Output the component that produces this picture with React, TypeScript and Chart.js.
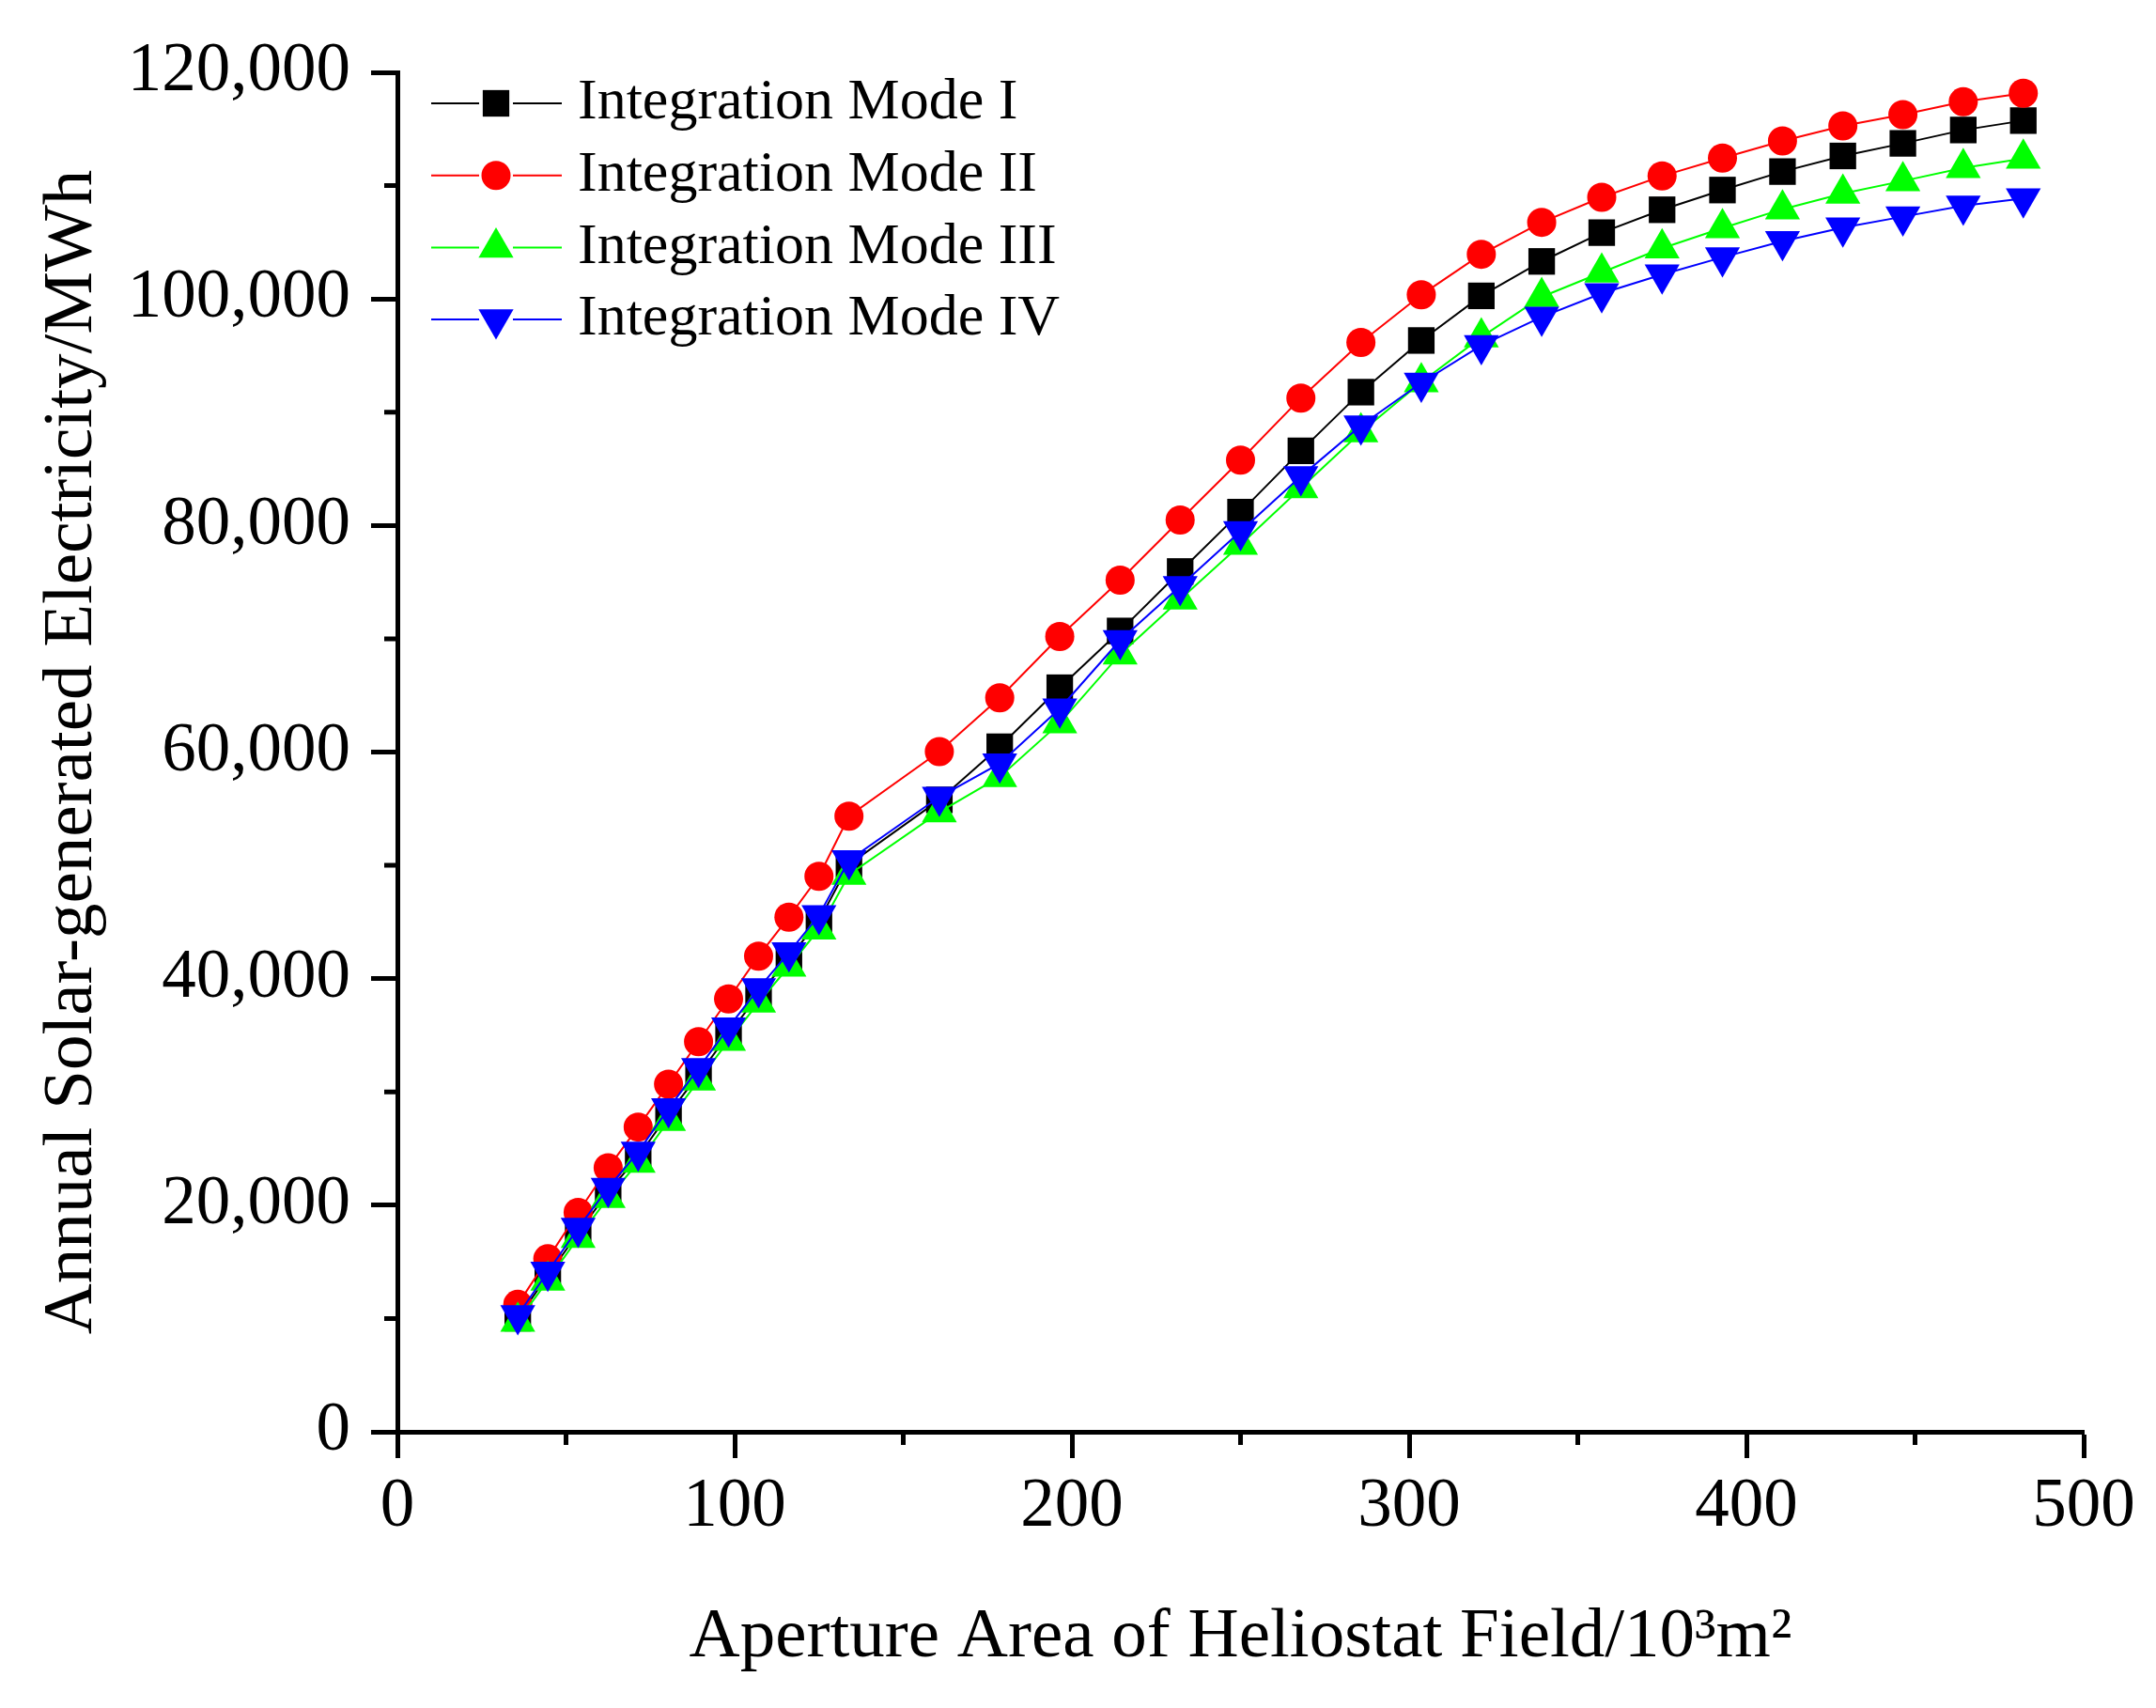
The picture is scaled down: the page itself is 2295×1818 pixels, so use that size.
import { useEffect, useRef } from 'react';
import { Chart, registerables } from 'chart.js';
import { drawPoint } from 'chart.js/helpers';

Chart.register(...registerables);

// Aperture area of heliostat field (10^3 m2)
const apertureArea = [
  35.7, 44.6, 53.6, 62.5, 71.4, 80.4, 89.3, 98.2, 107.1, 116.1, 125.0, 133.9,
  160.7, 178.6, 196.4, 214.3, 232.1, 250.0, 267.9, 285.7, 303.6, 321.4, 339.3,
  357.1, 375.0, 392.9, 410.7, 428.6, 446.4, 464.3, 482.1,
];

// Annual solar-generated electricity (MWh)
const modeI = [
  10030, 13790, 17560, 21170, 24280, 28060, 31500, 35100, 38550, 41820, 45100, 50080,
  55780, 60470, 65680, 70690, 75940, 81180, 86590, 91770, 96330, 100270, 103310,
  105850, 107870, 109610, 111240, 112620, 113730, 114910, 115740,
];
const modeII = [
  11250, 15270, 19360, 23300, 26900, 30680, 34440, 38210, 41990, 45430, 49030, 54340,
  60040, 64790, 70200, 75180, 80490, 85770, 91250, 96160, 100360, 103940, 106760,
  108970, 110850, 112430, 113950, 115270, 116270, 117400, 118150,
];
const modeIII = [
  9730, 13360, 17130, 20650, 23760, 27460, 31010, 34510, 37890, 41070, 44350, 49180,
  54700, 57810, 62560, 68630, 73480, 78300, 83310, 88230, 92660, 96620, 100180,
  102340, 104470, 106260, 107920, 109300, 110410, 111570, 112400,
];
const modeIV = [
  10280, 14120, 17990, 21530, 24710, 28540, 32090, 35690, 39140, 42310, 45590, 50440,
  56040, 58990, 63840, 69870, 74630, 79480, 84330, 88820, 92590, 95900, 98410,
  100490, 102150, 103670, 105100, 106290, 107260, 108230, 108860,
];

const seriesLabels = ['Integration Mode I', 'Integration Mode II', 'Integration Mode III', 'Integration Mode IV'];
const xMinorTicks = [50, 150, 250, 350, 450];
const yMinorTicks = [10000, 30000, 50000, 70000, 90000, 110000];

const FONT = '"Liberation Serif", "Times New Roman", serif';

const toPoints = (ys: number[]) => apertureArea.map((x, i) => ({ x, y: ys[i] }));

// minor tick marks (shorter than the major ones)
const minorTicks = {
  id: 'minorTicks',
  afterDraw(chart: any) {
    const { ctx, chartArea, scales } = chart;
    ctx.save();
    ctx.strokeStyle = '#000';
    ctx.lineWidth = 5;
    ctx.beginPath();
    xMinorTicks.forEach((v) => {
      const px = scales.x.getPixelForValue(v);
      ctx.moveTo(px, chartArea.bottom);
      ctx.lineTo(px, chartArea.bottom + 14);
    });
    yMinorTicks.forEach((v) => {
      const py = scales.y.getPixelForValue(v);
      ctx.moveTo(chartArea.left, py);
      ctx.lineTo(chartArea.left - 14, py);
    });
    ctx.stroke();
    ctx.restore();
  },
};

// legend drawn inside the plot: line - symbol - line, then the label
const insideLegend = {
  id: 'insideLegend',
  afterDraw(chart: any) {
    const { ctx, chartArea } = chart;
    const x0 = chartArea.left + 36;
    const xm = chartArea.left + 105;
    const x1 = chartArea.left + 175;
    const tx = chartArea.left + 192;
    ctx.save();
    chart.data.datasets.forEach((ds: any, i: number) => {
      const y = chartArea.top + 33 + i * 76.7;
      ctx.strokeStyle = ds.borderColor;
      ctx.lineWidth = 2;
      ctx.beginPath();
      ctx.moveTo(x0, y);
      ctx.lineTo(xm - 18, y);
      ctx.moveTo(xm + 18, y);
      ctx.lineTo(x1, y);
      ctx.stroke();
      ctx.fillStyle = ds.backgroundColor;
      drawPoint(ctx, {
        pointStyle: ds.pointStyle,
        rotation: ds.pointRotation || 0,
        radius: ds.pointRadius,
        borderWidth: 0,
      }, xm, y);
      ctx.fillStyle = '#000';
      ctx.font = `62px ${FONT}`;
      ctx.textAlign = 'left';
      ctx.textBaseline = 'middle';
      ctx.fillText(ds.label, tx, y);
    });
    ctx.restore();
  },
};

export default function App() {
  const chartRef = useRef<HTMLCanvasElement>(null);
  const chartInstance = useRef<Chart | null>(null);

  useEffect(() => {
    if (!chartRef.current) return;
    const ctx = chartRef.current.getContext('2d');
    if (!ctx) return;
    if (chartInstance.current) chartInstance.current.destroy();

    Chart.defaults.font.family = FONT;
    Chart.defaults.color = '#000';

    const common = { borderWidth: 2, pointBorderWidth: 0, pointHoverRadius: 0, fill: false, tension: 0 };

    chartInstance.current = new Chart(ctx, {
      type: 'line',
      data: {
        datasets: [
          {
            ...common,
            label: seriesLabels[0],
            data: toPoints(modeI),
            borderColor: '#000000',
            backgroundColor: '#000000',
            pointStyle: 'rect',
            pointRadius: 20,
            order: 4,
          },
          {
            ...common,
            label: seriesLabels[1],
            data: toPoints(modeII),
            borderColor: '#ff0000',
            backgroundColor: '#ff0000',
            pointStyle: 'circle',
            pointRadius: 15.5,
            order: 3,
          },
          {
            ...common,
            label: seriesLabels[2],
            data: toPoints(modeIII),
            borderColor: '#00ff00',
            backgroundColor: '#00ff00',
            pointStyle: 'triangle',
            pointRadius: 21.5,
            order: 2,
          },
          {
            ...common,
            label: seriesLabels[3],
            data: toPoints(modeIV),
            borderColor: '#0000ff',
            backgroundColor: '#0000ff',
            pointStyle: 'triangle',
            pointRotation: 180,
            pointRadius: 21.5,
            order: 1,
          },
        ] as any,
      },
      options: {
        animation: false,
        responsive: true,
        maintainAspectRatio: false,
        layout: { padding: { top: 77, right: 77, left: 0, bottom: 0 } },
        plugins: {
          legend: { display: false },
          tooltip: { enabled: false },
        },
        scales: {
          x: {
            type: 'linear',
            min: 0,
            max: 500,
            ticks: {
              stepSize: 100,
              autoSkip: false,
              maxRotation: 0,
              padding: 9,
              color: '#000',
              font: { size: 73 },
            },
            grid: { drawOnChartArea: false, drawTicks: true, tickLength: 28, tickWidth: 5, tickColor: '#000' },
            border: { display: true, width: 5, color: '#000' },
            title: {
              display: true,
              text: 'Aperture Area of Heliostat Field/10³m²',
              color: '#000',
              font: { size: 75 },
              padding: { top: 0, bottom: 30 },
            },
            afterFit: (scale: any) => {
              scale.height = 294;
            },
          },
          y: {
            type: 'linear',
            min: 0,
            max: 120000,
            ticks: {
              stepSize: 20000,
              autoSkip: false,
              padding: 22,
              color: '#000',
              font: { size: 73 },
              callback: (v: any) => Number(v).toLocaleString('en-US'),
            },
            grid: { drawOnChartArea: false, drawTicks: true, tickLength: 28, tickWidth: 5, tickColor: '#000' },
            border: { display: true, width: 5, color: '#000' },
            title: {
              display: true,
              text: 'Annual Solar-generated Electricity/MWh',
              color: '#000',
              font: { size: 75 },
              padding: { top: 32, bottom: 0 },
            },
            afterFit: (scale: any) => {
              scale.width = 423;
            },
          },
        },
      },
      plugins: [minorTicks, insideLegend],
    });

    return () => {
      if (chartInstance.current) {
        chartInstance.current.destroy();
        chartInstance.current = null;
      }
    };
  }, []);

  return (
    <div style={{ position: 'absolute', left: 0, top: 0, width: 2295, height: 1818, background: '#fff' }}>
      <canvas ref={chartRef}></canvas>
    </div>
  );
}
